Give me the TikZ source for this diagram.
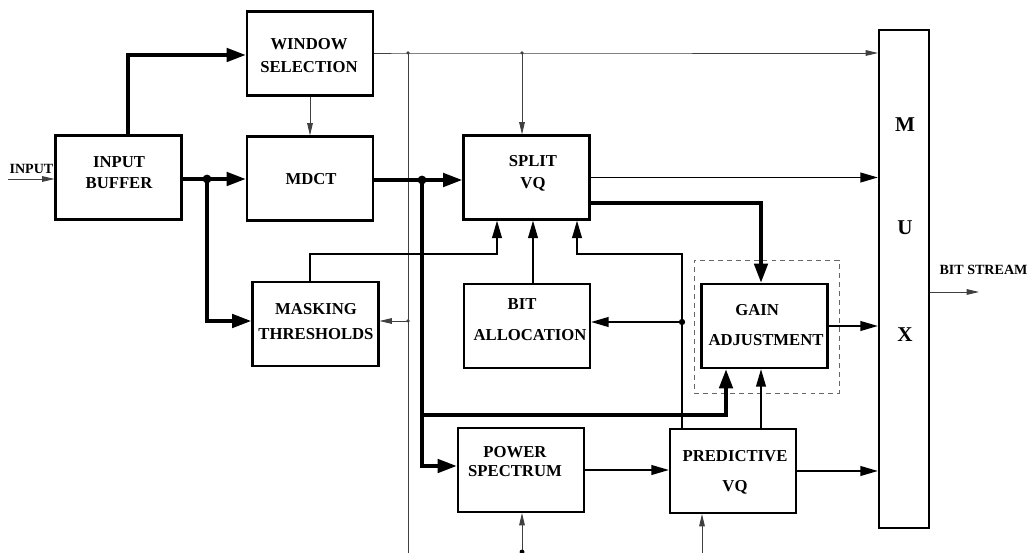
\documentclass[tikz,border=0pt]{standalone}
\usepackage{fontspec}
\setmainfont{Liberation Serif}
\usetikzlibrary{arrows.meta}

\begin{document}
\begin{tikzpicture}[x=0.02cm,y=-0.02cm,
blk/.style={draw, line width=1.2pt, minimum width=2.52cm, minimum height=1.68cm, inner sep=0pt},
txt/.style={align=center, inner sep=0pt, font=\fontsize{9.5}{11}\selectfont\bfseries},
lbl/.style={inner sep=0pt, font=\fontsize{8}{9}\selectfont\bfseries},
big/.style={inner sep=0pt, font=\fontsize{12}{14}\selectfont\bfseries},
thk/.style={line width=2.3pt, >={Triangle[length=11pt,width=7.5pt]}},
nrm/.style={line width=1.1pt, >={Triangle[length=10pt,width=5.5pt]}},
thn/.style={line width=0.5pt, black!75, >={Triangle[length=7pt,width=3.2pt]}}
]
\useasboundingbox (0,0) rectangle (1031,553);

% blocks
\node[blk] (ib) at (118.5,177.5) {};
\node[blk] (ws) at (310,53.5) {};
\node[blk] (mdct) at (310,178.5) {};
\node[blk] (mt) at (315.5,324) {};
\node[blk] (sv) at (526.5,177.5) {};
\node[blk] (ba) at (527,326) {};
\node[blk] (ga) at (764.5,326) {};
\node[blk] (ps) at (521,470) {};
\node[blk] (pv) at (733,471) {};
\node[blk, minimum width=1cm, minimum height=9.96cm] (mux) at (904,279) {};
\node[draw, black!60, line width=0.5pt, dash pattern=on 2.8pt off 2.3pt,
  minimum width=2.9cm, minimum height=2.66cm, inner sep=0pt] (gbox) at (766.5,326.5) {};

% block texts
\node[txt] (ib-t) at (119,172.5) {INPUT\\[1.3pt]BUFFER};
\node[txt] (ws-t) at (309,55.5) {WINDOW\\[1.9pt]SELECTION};
\node[txt] (mdct-t) at (311,179) {MDCT};
\node[txt] (mt-t) at (316,322) {MASKING\\[3.2pt]THRESHOLDS};
\node[txt] (sv-t) at (533,173) {SPLIT\\[1.5pt]VQ};
\node[txt] (ba-t) at (530,319.5) {BIT\hspace*{9pt}\\[6.4pt]ALLOCATION};
\node[txt] (ga-t) at (766,325) {GAIN\hspace*{10pt}\\[6pt]ADJUSTMENT};
\node[txt] (ps-t) at (515,462) {POWER\\[-0.2pt]SPECTRUM};
\node[txt] (pv-t) at (735,472.5) {PREDICTIVE\\[6pt]VQ};
\node[big] (mux-m) at (905,125) {M};
\node[big] (mux-u) at (905,228) {U};
\node[big] (mux-x) at (905,335) {X};
\node[lbl] (in-l) at (31.5,168.5) {INPUT};
\node[lbl] (bs-l) at (983.5,270) {BIT STREAM};

% junctions and free ends
\coordinate (in) at (8,179);
\coordinate (bs) at (979,292);
\coordinate (j1) at (207,179);
\coordinate (j2) at (422,180);
\coordinate (j3) at (408,53);
\coordinate (j4) at (522,53);
\coordinate (j5) at (408,321);
\coordinate (j6) at (682,322);
\coordinate (j7) at (522,552);
\coordinate (bot1) at (408,553);
\coordinate (bot2) at (702,553);
\coordinate (k1) at (128,55);
\coordinate (k2) at (726,415);
\coordinate (k3) at (310,254);
\coordinate (k4) at (497,254);
\coordinate (k5) at (533,254);
\coordinate (k6) at (682,254);
\coordinate (k7) at (577,254);
\coordinate (k8) at (422,466);
\coordinate (k9) at (761,203);

% thin lines
\draw[thn,->] (in) -- (in -| ib.west);
\draw[thn,->] (ws.south) -- (mdct.north);
\draw[thn,->] (ws.east |- j3) -- (j3) -- (j4) -- (j4 -| mux.west);
\draw[thn] (j3) -- (bot1);
\draw[thn,->] (j5) -- (j5 -| mt.east);
\draw[thn,->] (j4) -- (j4 |- sv.north);
\draw[thn,->] (j7) -- (j7 |- ps.south);
\draw[thn,->] (bot2) -- (bot2 |- pv.south);
\draw[thn,->] (mux.east |- bs) -- (bs);
\fill[black!75] (j3) circle (1pt) (j4) circle (1pt) (j5) circle (1pt);
\fill (j7) circle (1.4pt);

% thick lines
\draw[thk,->] (ib.north -| k1) -- (k1) -- (k1 -| ws.west);
\draw[thk,->] (ib.east |- j1) -- (j1) -- (j1 -| mdct.west);
\draw[thk,->] (j1) |- (mt.west |- j5);
\draw[thk,->] (mdct.east |- j2) -- (j2) -- (j2 -| sv.west);
\draw[thk,->] (j2) -- (k8) -- (k8 -| ps.west);
\draw[thk,->] (j2 |- k2) -- (k2) -- (k2 |- ga.south);
\draw[thk,->] (sv.east |- k9) -- (k9) -- (k9 |- ga.north);
\fill (j1) circle (2.5pt) (j2) circle (2.5pt);

% normal lines
\draw[nrm,->] (mt.north -| k3) -- (k3) -- (k4) -- (k4 |- sv.south);
\draw[nrm,->] (ba.north -| k5) -- (k5 |- sv.south);
\draw[nrm,->] (pv.north -| k6) -- (k6) -- (k7) -- (k7 |- sv.south);
\draw[nrm,->] (j6) -- (j6 -| ba.east);
\fill (j6) circle (1.8pt);
\draw[nrm,->] (sv.east) -- (sv.east -| mux.west);
\draw[nrm,->] (ga.east) -- (ga.east -| mux.west);
\draw[nrm,->] (pv.north -| k9) -- (ga.south -| k9);
\draw[nrm,->] (ps.east) -- (ps.east -| pv.west);
\draw[nrm,->] (pv.east) -- (pv.east -| mux.west);
\end{tikzpicture}
\end{document}
